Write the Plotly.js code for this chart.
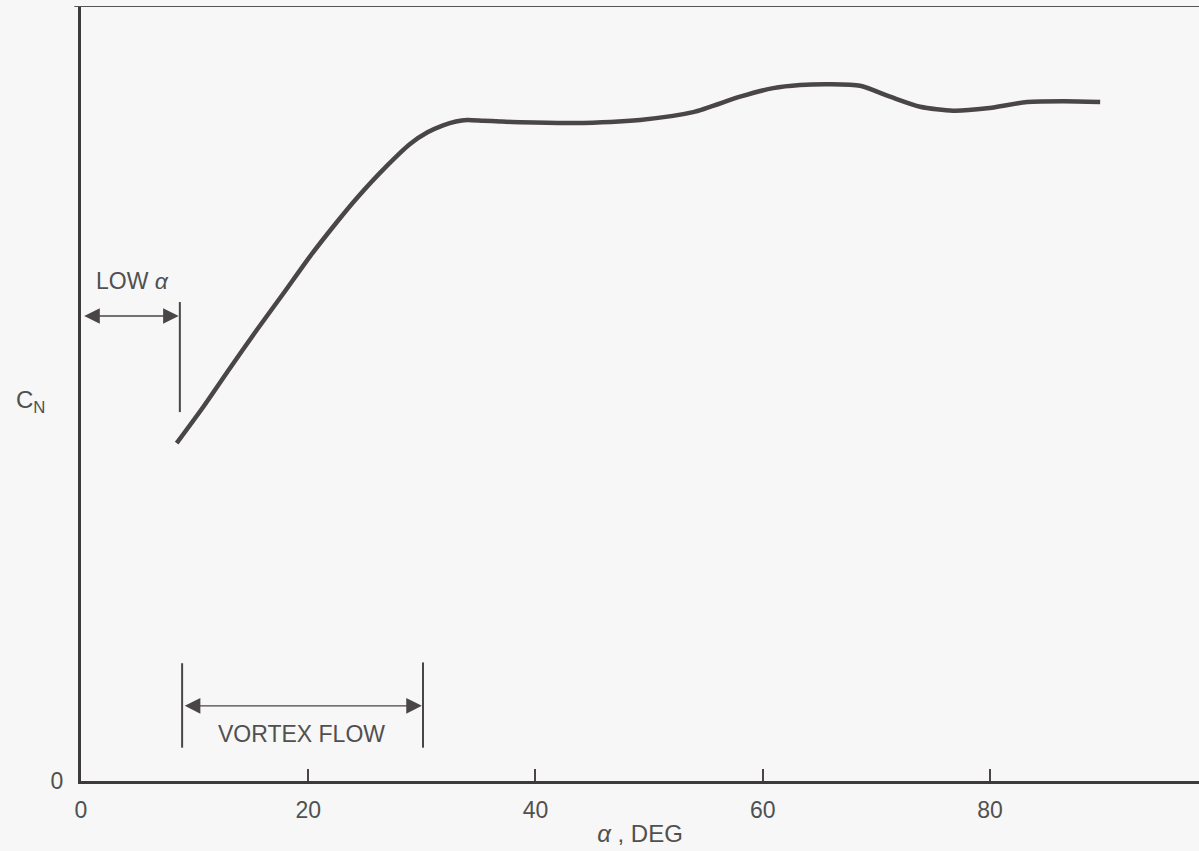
<!DOCTYPE html>
<html>
<head>
<meta charset="utf-8">
<script src="https://cdn.plot.ly/plotly-3.0.1.min.js"></script>
<style>html,body{margin:0;padding:0;background:#f7f7f7;}#chart{width:1199px;height:851px;}</style>
</head>
<body>
<div id="chart"></div>
<script>
// Data (alpha in deg, CN in arbitrary units 0..1)
const alphaDeg = [8.42, 10.77, 13.12, 15.47, 17.81, 20.16, 22.51, 24.27, 26.94, 28.96, 30.5, 31.87, 33.0, 33.98, 35.4, 36.88, 38.64, 43.31, 49.21, 53.87, 58.01, 60.92, 63.29, 65.93, 68.57, 71.21, 73.86, 76.76, 79.75, 83.27, 86.5, 89.70];
const cn = [0.436, 0.483, 0.533, 0.582, 0.629, 0.677, 0.721, 0.752, 0.794, 0.822, 0.837, 0.846, 0.851, 0.853, 0.852, 0.851, 0.850, 0.849, 0.853, 0.863, 0.883, 0.894, 0.898, 0.899, 0.897, 0.883, 0.870, 0.865, 0.868, 0.876, 0.877, 0.876];
const xTickVals = [0, 20, 40, 60, 80];
const xTickText = ['0', '20', '40', '60', '80'];
const yTickVals = [0];
const yTickText = ['0'];
const lowAlphaRange = [0, 8.7];
const vortexRange = [8.9, 30.1];

const ink = '#4a4648';
const txt = '#505050';
const fnt = 'Liberation Sans, Arial, sans-serif';

const trace = {
  x: alphaDeg, y: cn, type: 'scatter', mode: 'lines',
  line: {color: ink, width: 4.5, shape: 'spline', smoothing: 0.7},
  hoverinfo: 'skip'
};

const shapes = [
  // top frame line
  {type: 'line', xref: 'paper', yref: 'y', x0: -0.006, x1: 1, y0: 1, y1: 1, line: {color: '#555', width: 2}},
  // LOW alpha limit line
  {type: 'line', xref: 'x', yref: 'y', x0: lowAlphaRange[1], x1: lowAlphaRange[1], y0: 0.476, y1: 0.618, line: {color: ink, width: 2}},
  // vortex limit lines
  {type: 'line', xref: 'x', yref: 'y', x0: vortexRange[0], x1: vortexRange[0], y0: 0.043, y1: 0.152, line: {color: ink, width: 2}},
  {type: 'line', xref: 'x', yref: 'y', x0: vortexRange[1], x1: vortexRange[1], y0: 0.043, y1: 0.153, line: {color: ink, width: 2}}
];

function dblArrow(x0, x1, y) {
  return {
    x: x1, y: y, ax: x0, ay: y, xref: 'x', yref: 'y', axref: 'x', ayref: 'y',
    text: '', showarrow: true, arrowhead: 2, startarrowhead: 2, arrowside: 'end+start',
    arrowsize: 2.4, startarrowsize: 2.4, arrowwidth: 1.3, arrowcolor: ink, standoff: 0, startstandoff: 0
  };
}

const annotations = [
  dblArrow(lowAlphaRange[0] + 0.15, lowAlphaRange[1] - 0.1, 0.600),
  dblArrow(vortexRange[0] + 0.1, vortexRange[1] - 0.1, 0.097),
  {x: 4.55, y: 0.645, xref: 'x', yref: 'y', text: 'LOW <i>α</i>', showarrow: false, font: {family: fnt, size: 23, color: txt}},
  {x: 19.45, y: 0.061, xref: 'x', yref: 'y', text: 'VORTEX FLOW', showarrow: false, font: {family: fnt, size: 23, color: txt}},
  {x: -0.045, y: 0.49, xref: 'paper', yref: 'paper', xanchor: 'center', text: 'C<sub>N</sub>', showarrow: false, font: {family: fnt, size: 24, color: txt}}
];

const layout = {
  width: 1199, height: 851,
  margin: {l: 81, r: 0, t: 6, b: 70},
  paper_bgcolor: '#f7f7f7', plot_bgcolor: '#f7f7f7',
  showlegend: false,
  xaxis: {
    range: [0, 98.4], showgrid: false, zeroline: false,
    showline: true, linecolor: '#3e3a3c', linewidth: 3,
    ticks: 'inside', ticklen: 12, tickwidth: 2, tickcolor: ink,
    tickvals: xTickVals, ticktext: xTickText, ticklabelstandoff: 6,
    tickfont: {family: fnt, size: 23, color: txt},
    title: {text: '<i>α</i> , DEG', font: {family: fnt, size: 24, color: txt}, standoff: 4}
  },
  yaxis: {
    range: [0, 1], showgrid: false, zeroline: false,
    showline: true, linecolor: '#3e3a3c', linewidth: 3,
    ticks: '', tickvals: yTickVals, ticktext: yTickText, ticklabelstandoff: 10,
    tickfont: {family: fnt, size: 23, color: txt}
  },
  shapes: shapes,
  annotations: annotations
};

Plotly.newPlot('chart', [trace], layout, {displayModeBar: false, staticPlot: true});
</script>
</body>
</html>
